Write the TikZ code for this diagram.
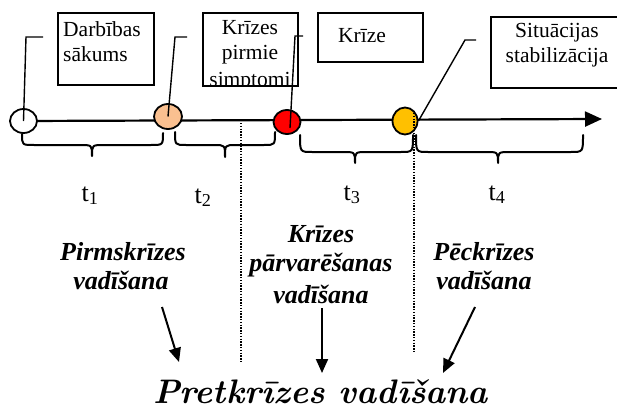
\documentclass[tikz,border=0pt]{standalone}
\usepackage{fontspec}
\newfontfamily\tnr{Liberation Serif}
\usetikzlibrary{shapes.geometric,arrows.meta}
\pgfdeclarelayer{bg}\pgfsetlayers{bg,main}
\definecolor{peach}{HTML}{FAC090}
\definecolor{gold}{HTML}{FFC000}
\begin{document}
\begin{tikzpicture}[x=1pt,y=-1pt,
  boxtxt/.style={inner sep=0pt,anchor=base,font=\tnr\fontsize{21.5}{25}\selectfont},
  tlab/.style={inner sep=0pt,anchor=base,font=\tnr\fontsize{26}{30}\selectfont},
  phase/.style={inner sep=0pt,anchor=base,font=\tnr\bfseries\itshape\fontsize{26}{30}\selectfont},
  boxframe/.style={draw,line width=1.3pt},
  dot/.style={ellipse,draw,line width=1.8pt,inner sep=0pt,minimum width=27,minimum height=24},
  callout/.style={line width=1.4pt},
  brace/.style={line width=2pt,line join=round,line cap=round},
  sep/.style={line width=1.3pt,dash pattern=on 1.3pt off 1.5pt},
  arr/.style={line width=2pt,-{Triangle[length=14pt,width=12pt]}}]
\useasboundingbox (0,0) rectangle (617,409);
\clip (0,0) rectangle (617,409);

% boxes
\draw[boxframe] (58,13) rectangle (154,85);
\draw[boxframe] (203,13) rectangle (298,86);
\draw[boxframe] (318,13) rectangle (423,62);
\draw[boxframe] (491,17) rectangle (630,88);

\node[boxtxt,anchor=base west] (b1a) at (63,37) {Darbības};
\node[boxtxt,anchor=base west] (b1b) at (63,62) {sākums};
\begin{scope}
\clip (203,13) rectangle (298,85.4);
\node[boxtxt] (b2a) at (250,35) {Krīzes};
\node[boxtxt] (b2b) at (250,60) {pirmie};
\node[boxtxt] (b2c) at (250,87) {simptomi};
\end{scope}
\node[boxtxt] (b3) at (362,43) {Krīze};
\node[boxtxt] (b4a) at (557,38) {Situācijas};
\node[boxtxt] (b4b) at (557,63) {stabilizācija};

% timeline
\coordinate (tend) at (602,119);
\node[dot,fill=white] (c1) at (23.5,121) {};
\node[dot,fill=peach,minimum width=28,minimum height=25] (c2) at (168,116.5) {};
\node[dot,fill=red] (c3) at (287,122) {};
\node[dot,fill=gold,minimum width=25,minimum height=27] (c4) at (405,121) {};
\begin{pgfonlayer}{bg}
\draw[line width=2.2pt,-{Triangle[length=17pt,width=15pt]}] (c1.center) -- (tend);
\end{pgfonlayer}

% callouts
\coordinate (e1) at (26,37); \coordinate (f1) at (43,37);
\coordinate (e2) at (175,37); \coordinate (f2) at (187,37);
\coordinate (k3) at (290,128); \coordinate (e3) at (295,36); \coordinate (f3) at (303,36);
\coordinate (e4) at (465,40); \coordinate (f4) at (476,40);
\draw[callout] (c1.center) -- (e1) -- (f1);
\draw[callout] (c2.center) -- (e2) -- (f2);
\draw[callout] (k3) -- (e3) -- (f3);
\draw[callout] (c4.east) -- (e4) -- (f4);

% separators
\coordinate (d1a) at (241,123); \coordinate (d1b) at (241,362);
\coordinate (d2a) at (414,113); \coordinate (d2b) at (414,352);
\draw[sep] (d1a) -- (d1b);
\draw[sep] (d2a) -- (d2b);

% braces
\draw[brace] (22,134) .. controls (22,145) .. (34,145) -- (80,145) .. controls (92,145) .. (92,156) .. controls (92,145) .. (104,145) -- (151,145) .. controls (163,145) .. (163,133);
\draw[brace] (175,132) .. controls (175,145) .. (186,145) -- (214,145) .. controls (225,145) .. (225,157) .. controls (225,145) .. (236,145) -- (264,145) .. controls (275,145) .. (275,132);
\draw[brace] (300,135) .. controls (300,152) .. (312,152) -- (343,152) .. controls (355,152) .. (355,163) .. controls (355,152) .. (367,152) -- (401,152) .. controls (413,152) .. (413,135);
\draw[brace] (416,135) .. controls (416,152) .. (428,152) -- (486,152) .. controls (498,152) .. (498,163) .. controls (498,152) .. (510,152) -- (571,152) .. controls (583,152) .. (583,135);

% period labels
\node[tlab] (t1) at (90,201) {t\textsubscript{1}};
\node[tlab] (t2) at (203,203) {t\textsubscript{2}};
\node[tlab] (t3) at (352,200) {t\textsubscript{3}};
\node[tlab] (t4) at (497,200) {t\textsubscript{4}};

% phases
\node[phase] (p1a) at (123,260) {Pirmskrīzes};
\node[phase] (p1b) at (121,289) {vadīšana};
\node[phase] (p2a) at (321,242) {Krīzes};
\node[phase] (p2b) at (321,271) {pārvarēšanas};
\node[phase] (p2c) at (321,303) {vadīšana};
\node[phase] (p3a) at (484,260) {Pēckrīzes};
\node[phase] (p3b) at (484,289) {vadīšana};

\node[inner sep=0pt,anchor=base,font=\bfseries\itshape\fontsize{34}{36}\selectfont] (main) at (320.5,403.5) {Pretkrīzes vadīšana};

\coordinate (a1s) at (162,307); \coordinate (a1e) at (179,362);
\coordinate (a2s) at (322,308); \coordinate (a2e) at (322,373);
\coordinate (a3s) at (475,307); \coordinate (a3e) at (443,373);
\draw[arr] (a1s) -- (a1e);
\draw[arr] (a2s) -- (a2e);
\draw[arr] (a3s) -- (a3e);
\end{tikzpicture}
\end{document}
